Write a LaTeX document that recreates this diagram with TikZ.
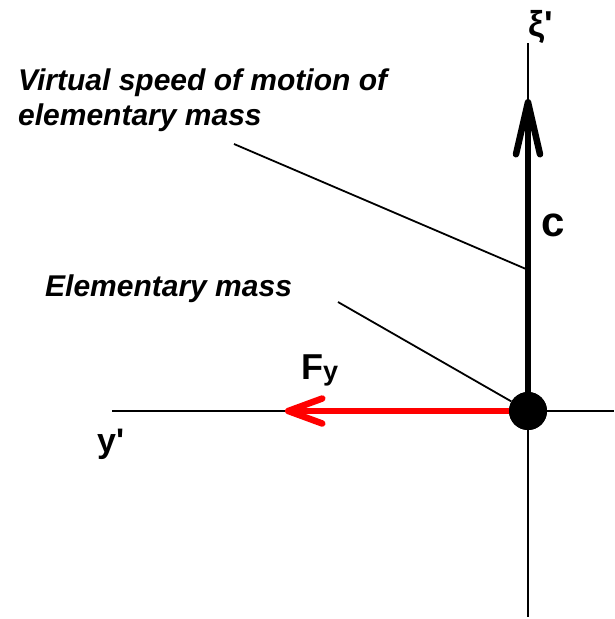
\documentclass[tikz,border=0pt]{standalone}
\usepackage{fontspec}
\setmainfont{Liberation Sans}
\usetikzlibrary{arrows.meta}
\tikzset{
  axis/.style ={draw,line width=2pt},
  lead/.style ={draw,line width=1.8pt},
  vecc/.style ={line width=6.5pt,-{Straight Barb[length=52pt 0 0,width=24pt 0 0,round]}},
  vecf/.style ={line width=6.5pt,red,-{Straight Barb[length=34pt 0 0,width=25pt 0 0,round]}},
  mass/.style ={circle,fill=black,minimum size=38pt,inner sep=0pt},
  note/.style ={font=\fontsize{30}{35}\selectfont\bfseries\itshape,inner sep=0pt,align=left},
  sym/.style  ={font=\fontsize{36}{40}\selectfont\bfseries,inner sep=0pt},
}

\begin{document}
\begin{tikzpicture}[x=1pt,y=-1pt]
  \useasboundingbox (0,0) rectangle (614,619);
  % axes
  \coordinate (xitop) at (528,43);  \coordinate (xibot) at (528,617);
  \coordinate (yleft) at (112,411); \coordinate (yright) at (614,411);
  \draw[axis] (xitop)--(xibot);
  \draw[axis] (yleft)--(yright);
  % mass and its vectors
  \node[mass] (m) at (528,411){};
  \coordinate (ctip) at (528,99);  \coordinate (ftip) at (285,411);
  \draw[vecc] (m.center)--(ctip);
  \draw[vecf] (m.center)--(ftip);
  \node[mass] at (m){};
  % labels
  \node[sym,anchor=base west] (xi) at (528,36){ξ\textquotesingle};
  \node[sym,anchor=base west,font=\fontsize{42}{46}\selectfont\bfseries] (c) at (541,236){c};
  \node[sym,anchor=base west] (fy) at (301,379){F{\fontsize{27}{27}\selectfont\raisebox{-1pt}{y}}};
  \node[sym,anchor=base west,font=\fontsize{34}{38}\selectfont\bfseries] (yp) at (97,452){y\textquotesingle};
  \node[note,anchor=north west] (vnote) at (18,69){Virtual speed of motion of\\elementary mass};
  \node[note,anchor=base west] (mnote) at (45,296){Elementary mass};
  % leaders
  \coordinate (vtail) at (234,144); \coordinate (vend) at (526,269);
  \coordinate (mtail) at (338,302);
  \draw[lead] (vtail)--(vend);
  \draw[lead] (mtail)--(m);
\end{tikzpicture}
\end{document}
